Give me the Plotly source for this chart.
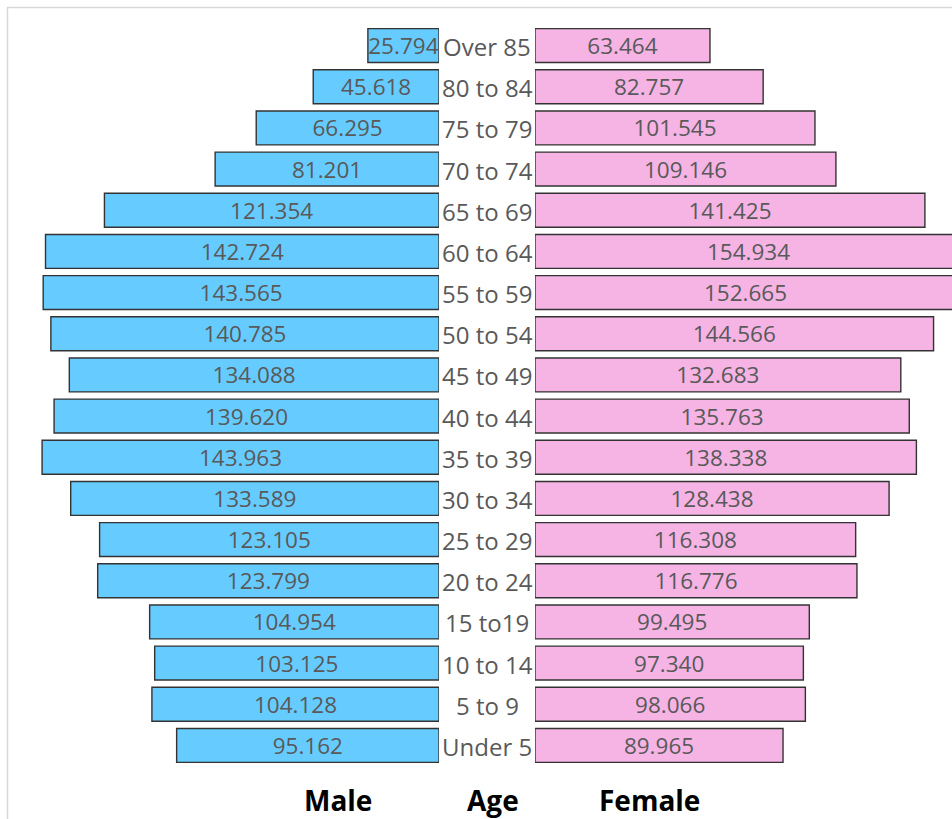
import plotly.graph_objects as go

ages = ["Over 85", "80 to 84", "75 to 79", "70 to 74", "65 to 69", "60 to 64",
        "55 to 59", "50 to 54", "45 to 49", "40 to 44", "35 to 39", "30 to 34",
        "25 to 29", "20 to 24", "15 to19", "10 to 14", "5 to 9", "Under 5"]
male = [25.794, 45.618, 66.295, 81.201, 121.354, 142.724, 143.565, 140.785, 134.088,
        139.620, 143.963, 133.589, 123.105, 123.799, 104.954, 103.125, 104.128, 95.162]
female = [63.464, 82.757, 101.545, 109.146, 141.425, 154.934, 152.665, 144.566, 132.683,
          135.763, 138.338, 128.438, 116.308, 116.776, 99.495, 97.340, 98.066, 89.965]
bottom_labels = ["Male", "Age", "Female"]

W, H = 952, 819
T, B = 25, 53
px_per_unit = 2.757
male_right = 439
female_left = 535

font_fam = "Open Sans, Noto Sans, sans-serif"
txt_col = "#595959"

fig = go.Figure()
fig.add_trace(go.Bar(
    y=ages, x=male, orientation="h", xaxis="x", yaxis="y",
    marker=dict(color="#66CCFF", line=dict(color="#333333", width=1.4)),
    text=[f"{v:.3f}" for v in male], textposition="inside", insidetextanchor="middle",
    constraintext="none", textfont=dict(color=txt_col, size=22.5, family=font_fam),
    showlegend=False, hoverinfo="skip"))
fig.add_trace(go.Bar(
    y=ages, x=female, orientation="h", xaxis="x2", yaxis="y",
    marker=dict(color="#F5B4E4", line=dict(color="#333333", width=1.4)),
    text=[f"{v:.3f}" for v in female], textposition="inside", insidetextanchor="middle",
    constraintext="none", textfont=dict(color=txt_col, size=22.5, family=font_fam),
    showlegend=False, hoverinfo="skip"))

plot_h = H - T - B
def py(pix):
    return 1 - (pix - T) / plot_h

shapes = [
    dict(type="line", xref="paper", yref="paper", x0=7 / W, x1=1.02, y0=py(7.5), y1=py(7.5),
         line=dict(color="#D9D9D9", width=1.5)),
    dict(type="line", xref="paper", yref="paper", x0=7.5 / W, x1=7.5 / W, y0=py(7), y1=py(H + 5),
         line=dict(color="#D9D9D9", width=1.5)),
]

annotations = [dict(text=a, x=0, y=a, xref="x3", yref="y", yshift=-1,
                    showarrow=False, xanchor="center", yanchor="middle",
                    font=dict(size=24, color=txt_col, family=font_fam))
               for a in ages]

ann_x = [338, 493, 649]
annotations += [dict(text=f"<b>{t}</b>", x=x / W, y=py(800), xref="paper", yref="paper",
                     showarrow=False, xanchor="center", yanchor="middle",
                     font=dict(size=28, color="#000000", family=font_fam))
                for t, x in zip(bottom_labels, ann_x)]

fig.update_layout(
    width=W, height=H, margin=dict(l=0, r=0, t=T, b=B),
    paper_bgcolor="white", plot_bgcolor="white",
    bargap=0.175,
    xaxis=dict(domain=[0, male_right / W], range=[male_right / px_per_unit, 0],
               visible=False, fixedrange=True),
    xaxis2=dict(domain=[female_left / W, 1], range=[0, (W - female_left) / px_per_unit],
                visible=False, anchor="y", fixedrange=True),
    xaxis3=dict(domain=[male_right / W, female_left / W], range=[-1, 1],
                visible=False, anchor="y", fixedrange=True),
    yaxis=dict(categoryorder="array", categoryarray=ages[::-1], visible=False,
               range=[-0.5, len(ages) - 0.5], fixedrange=True),
    shapes=shapes, annotations=annotations,
)

fig.write_html("out.html", config={"displayModeBar": False},
               post_script="document.body.style.margin='0';document.body.style.overflow='hidden';")
